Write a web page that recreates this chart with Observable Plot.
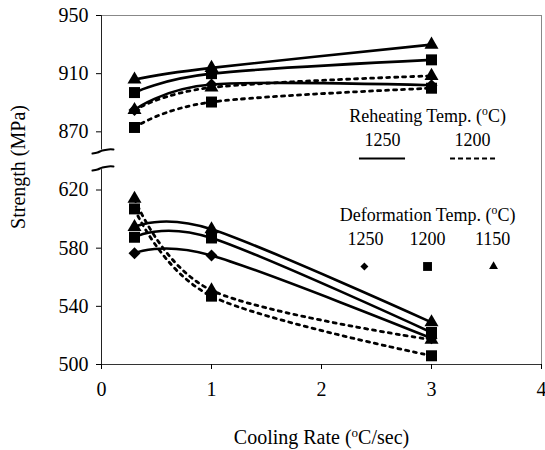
<!DOCTYPE html>
<html>
<head>
<meta charset="utf-8">
<script src="https://cdn.jsdelivr.net/npm/d3@7"></script>
<script src="https://cdn.jsdelivr.net/npm/@observablehq/plot@0.6"></script>
<style>
  html, body { margin: 0; padding: 0; background: #fff; }
  #chart { width: 545px; height: 450px; }
</style>
</head>
<body>
<div id="chart"></div>
<script>
// ---- data ----
const coolingRate = [0.3, 1, 3];                       // °C/sec
const seriesReheat = [1250, 1250, 1250, 1200, 1200];   // reheating temp (°C)
const seriesDeform = [1150, 1200, 1250, 1150, 1200];   // deformation temp (°C)
// upper group (870–950 MPa part of the broken axis)
const upperStrength = [
  [906, 914, 930],
  [897, 910, 919.5],
  [885, 902.5, 902],
  [885, 900.5, 908.5],
  [873, 890.5, 900]
];
// lower group (500–620 MPa part of the broken axis)
const lowerStrength = [
  [594.5, 593, 529],
  [587.5, 587, 522],
  [576.5, 575, 518],
  [614, 551, 517],
  [607, 547, 506]
];
const xTicks = [0, 1, 2, 3, 4];
const yTicksLower = [500, 540, 580, 620];
const yTicksUpper = [870, 910, 950];
const breakShift = 210; // upper labels = plotted value + breakShift
const reheatLegend = [1250, 1200];
const deformLegend = [1250, 1200, 1150];

// ---- build table ----
const rows = [];
seriesReheat.forEach((rh, i) => {
  coolingRate.forEach((cr, j) => {
    rows.push({key: "u" + i, reheat: rh, deform: seriesDeform[i], cooling: cr,
               strength: upperStrength[i][j], y: upperStrength[i][j] - breakShift});
  });
  coolingRate.forEach((cr, j) => {
    rows.push({key: "l" + i, reheat: rh, deform: seriesDeform[i], cooling: cr,
               strength: lowerStrength[i][j], y: lowerStrength[i][j]});
  });
});
const yTicks = [...yTicksLower, ...yTicksUpper.map(v => v - breakShift)];

const serif = "'Liberation Serif', 'Times New Roman', serif";
const solid = rows.filter(d => d.reheat === 1250);
const dashed = rows.filter(d => d.reheat === 1200);

const breakTop = [{x: -0.082, y: 645.1}, {x: -0.036, y: 645.8}, {x: 0.009, y: 647.2}, {x: 0.064, y: 647.9}, {x: 0.109, y: 647.9}];
const breakBot = breakTop.map(d => ({x: d.x, y: d.y - 11.7}));

const chart = Plot.plot({
  width: 545,
  height: 450,
  marginLeft: 101,
  marginRight: 4,
  marginTop: 15,
  marginBottom: 86,
  style: {fontFamily: serif, fontSize: "20px", color: "#000", background: "#fff"},
  x: {domain: [0, 4]},
  y: {domain: [500, 740]},
  marks: [
    // frame pieces
    Plot.ruleY([740], {stroke: "#888", strokeWidth: 1}),
    Plot.ruleX([4], {stroke: "#888", strokeWidth: 1}),
    Plot.ruleY([500], {stroke: "#333", strokeWidth: 1}),
    Plot.ruleX([{y1: 500, y2: 634}, {y1: 647.5, y2: 740}], {x: 0, y1: "y1", y2: "y2", stroke: "#222", strokeWidth: 1}),
    Plot.line(breakTop, {x: "x", y: "y", curve: "catmull-rom", stroke: "#000", strokeWidth: 2}),
    Plot.line(breakBot, {x: "x", y: "y", curve: "catmull-rom", stroke: "#000", strokeWidth: 2}),
    Plot.axisX({ticks: xTicks, tickSize: 5, tickPadding: 12, tickFormat: d => d, label: null, fontSize: 20}),
    Plot.axisY({ticks: yTicks, tickSize: 5, tickPadding: 8, label: null, fontSize: 20,
                tickFormat: d => d > 640 ? d + breakShift : d}),
    // curves
    Plot.line(solid, {x: "cooling", y: "y", z: "key", curve: "cardinal", stroke: "#000", strokeWidth: 2.6}),
    Plot.line(dashed, {x: "cooling", y: "y", z: "key", curve: "cardinal", stroke: "#000", strokeWidth: 2.8, strokeDasharray: "3,5"}),
    // markers
    Plot.dot(rows.filter(d => d.deform === 1250), {x: "cooling", y: "y", symbol: "diamond2", r: 5.4, fill: "#000"}),
    Plot.dot(rows.filter(d => d.deform === 1200), {x: "cooling", y: "y", symbol: "square", r: 6.2, fill: "#000"}),
    Plot.dot(rows.filter(d => d.deform === 1150), {x: "cooling", y: "y", symbol: "triangle", r: 5.2, fill: "#000"}),
    // legend: reheating temperature
    Plot.text(["Reheating Temp. (°C)"], {x: 2.964, y: 670.5, fontSize: 18, fill: "#000"}),
    Plot.text(reheatLegend, {x: (d, i) => [2.555, 3.373][i], y: 654, text: d => String(d), fontSize: 18, fill: "#000"}),
    Plot.ruleY([641.7], {x1: 2.345, x2: 2.764, stroke: "#000", strokeWidth: 2}),
    Plot.ruleY([641.7], {x1: 3.173, x2: 3.609, stroke: "#000", strokeWidth: 2, strokeDasharray: "5,3"}),
    // legend: deformation temperature
    Plot.text(["Deformation Temp. (°C)"], {x: 2.964, y: 602.5, fontSize: 18, fill: "#000"}),
    Plot.text(deformLegend, {x: (d, i) => [2.4, 2.964, 3.555][i], y: 586, text: d => String(d), fontSize: 18, fill: "#000"}),
    Plot.dot([deformLegend[0]], {x: 2.39, y: 567.4, symbol: "diamond2", r: 3.6, fill: "#000"}),
    Plot.dot([deformLegend[1]], {x: 2.964, y: 567.4, symbol: "square", r: 5.0, fill: "#000"}),
    Plot.dot([deformLegend[2]], {x: 3.564, y: 567.4, symbol: "triangle", r: 3.3, fill: "#000"}),
    // axis titles
    Plot.text(["Cooling Rate (°C/sec)"], {x: 2, y: 449.8, fontSize: 20, fill: "#000"}),
    Plot.text(["Strength (MPa)"], {x: -0.7545, y: 635.8, rotate: -90, fontSize: 20, fill: "#000"})
  ]
});

// superscript "o" for the degree sign
chart.querySelectorAll("text").forEach(t => {
  const s = t.textContent;
  if (!s.includes("°")) return;
  const [before, after] = s.split("°");
  while (t.firstChild) t.removeChild(t.firstChild);
  t.appendChild(document.createTextNode(before));
  const sup = document.createElementNS("http://www.w3.org/2000/svg", "tspan");
  sup.setAttribute("dy", "-7");
  sup.setAttribute("font-size", "0.65em");
  sup.textContent = "o";
  t.appendChild(sup);
  const rest = document.createElementNS("http://www.w3.org/2000/svg", "tspan");
  rest.setAttribute("dy", "7");
  rest.textContent = after;
  t.appendChild(rest);
});

document.getElementById("chart").appendChild(chart);
</script>
</body>
</html>
